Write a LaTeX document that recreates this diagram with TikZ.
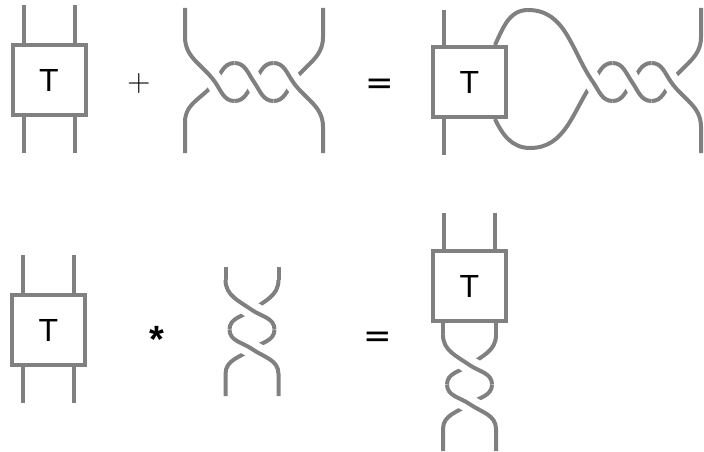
\documentclass[tikz,border=0pt]{standalone}
\usepackage{fontspec}
\newfontfamily\labelfont{Liberation Sans}
\newfontfamily\eqfont{DejaVu Sans}
\definecolor{strandgray}{RGB}{128,128,128}

\tikzset{
  strand/.style={draw=strandgray, line width=4pt},
  over/.style={strand, preaction={draw=white, line width=18pt}},
  tbox/.style={strand, fill=white, minimum width=73pt, minimum height=70pt,
    inner sep=0pt, font=\labelfont\fontsize{32}{38}\selectfont},
}

\begin{document}
\begin{tikzpicture}[x=1pt, y=1pt]
\useasboundingbox (0,0) rectangle (704,-452);

% the four boxes
\node[tbox] (b1) at (49,-80) {T};
\node[tbox] (b2) at (48.5,-330) {T};
\node[tbox] (b3) at (469.5,-82) {T};
\node[tbox] (b4) at (469.5,-286) {T};

% legs of the boxes
\foreach \s in {-25.5,25.5} {
  \draw[strand] ([xshift=\s pt]b1.north) -- ++(0,38);
  \draw[strand] ([xshift=\s pt]b1.south) -- ++(0,-36);
  \draw[strand] ([xshift=\s pt]b2.north) -- ++(0,38);
  \draw[strand] ([xshift=\s pt]b2.south) -- ++(0,-36);
  \draw[strand] ([xshift=\s pt]b4.north) -- ++(0,36);
}
\draw[strand] ([xshift=-25.5pt]b3.north) -- ++(0,35);
\draw[strand] ([xshift=-25.5pt]b3.south) -- ++(0,-36);

% signs
\node[font=\fontsize{32}{38}\selectfont] (plus) at (139,-84) {+};
\node[font=\eqfont\fontsize{34}{40}\selectfont] (eq1) at (380,-87) {=};
\node[font=\eqfont\fontsize{34}{40}\selectfont] (eq2) at (378,-340) {=};
\node[font=\labelfont\bfseries\fontsize{38}{44}\selectfont] (star) at (156.5,-339) {*};

% left ends of the top twist
\draw[strand] (185,-153) -- (185,-122) to[out=90,in=-125] (215,-82) to[out=55,in=180] (234.5,-63);
\draw[over] (185,-8) -- (185,-37) to[out=-90,in=125] (215,-82) to[out=-55,in=180] (234.5,-101);

% loops from box b3 into its twist
\draw[strand] ([xshift=25.5pt]b3.south) to[out=-65,in=180] (530,-148)
  to[out=0,in=-125] (593,-82) to[out=55,in=180] (612.5,-63);
\draw[strand] ([xshift=25.5pt]b3.north) to[out=65,in=180] (528,-10);
\draw[over] (528,-10) to[out=0,in=125] (593,-82) to[out=-55,in=180] (612.5,-101);

% horizontal twists
\foreach \cx/\cy in {215/-82, 593/-82} {
  \begin{scope}[shift={(\cx,\cy)}]
    \draw[strand] (19.5,-19) to[out=0,in=-125] (39,0) to[out=55,in=180] (58.5,19);
    \draw[strand] (58.5,-19) to[out=0,in=-125] (78,0) to[out=55,in=-90] (108,45) -- (108,74);
    \draw[over] (19.5,19) to[out=0,in=125] (39,0) to[out=-55,in=180] (58.5,-19);
    \draw[over] (58.5,19) to[out=0,in=125] (78,0) to[out=-55,in=90] (108,-45) -- (108,-71);
  \end{scope}
}

% top ends of the vertical twists
\draw[strand] (225.5,-267) -- (225.5,-280);
\draw[strand] (278.5,-267) -- (278.5,-280);
\draw[strand] ([xshift=-26.5pt]b4.south) -- (443,-335);
\draw[strand] ([xshift=26.5pt]b4.south) -- (496,-335);

% vertical twists
\foreach \cx/\cy in {252/-310, 469.5/-365} {
  \begin{scope}[shift={(\cx,\cy)}]
    \draw[strand] (26.5,30) to[out=-90,in=35] (0,0) to[out=-145,in=90] (-22.5,-19.5);
    \draw[strand] (22.5,-19.5) to[out=-90,in=35] (0,-39) to[out=-145,in=90] (-26.5,-64) -- (-26.5,-86);
    \draw[over] (-26.5,30) to[out=-90,in=145] (0,0) to[out=-35,in=90] (22.5,-19.5);
    \draw[over] (-22.5,-19.5) to[out=-90,in=145] (0,-39) to[out=-35,in=90] (26.5,-64) -- (26.5,-86);
  \end{scope}
}

\end{tikzpicture}
\end{document}
